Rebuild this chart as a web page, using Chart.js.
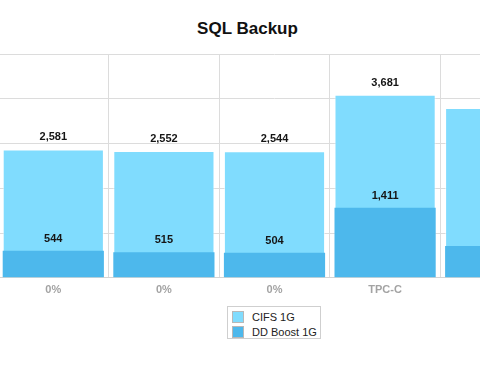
<!DOCTYPE html>
<html>
<head>
<meta charset="utf-8">
<script src="https://cdn.jsdelivr.net/npm/chart.js@4"></script>
<style>
  body { margin: 0; background: #fff; font-family: "Liberation Sans", Arial, sans-serif; }
  #frame { position: relative; width: 480px; height: 376px; overflow: hidden; }
  #title { position: absolute; left: 0; width: 495px; top: 19px; text-align: center;
           font-size: 17px; font-weight: bold; color: #111; }
  #plot { position: absolute; left: -2px; top: 0; width: 553px; height: 303px; }
  #legend { position: absolute; left: 227px; top: 306px; width: 92px; height: 31px;
            border: 1px solid #cfcfcf; font-size: 11px; color: #222; }
  .item { position: absolute; left: 4px; height: 12px; line-height: 12px; white-space: nowrap; }
  .sw { display: inline-block; width: 10px; height: 10px; border: 1px solid #b8b8b8;
        vertical-align: top; margin-right: 8px; }
</style>
</head>
<body>
<div id="frame">
  <div id="title">SQL Backup</div>
  <div id="plot"><canvas id="graficoBackup"></canvas></div>
  <div id="legend">
    <div class="item" style="top:4px"><span class="sw" style="background:#80dcfe"></span>CIFS 1G</div>
    <div class="item" style="top:19px"><span class="sw" style="background:#4db8ec"></span>DD Boost 1G</div>
  </div>
</div>
<script>
const categorias = ['0%', '0%', '0%', 'TPC-C', '0%'];
const cifs1G = [2581, 2552, 2544, 3681, 3413];
const ddBoost1G = [544, 515, 504, 1411, 639];

const graficoBackup = document.getElementById('graficoBackup');

// escreve o valor em cima de cada barra
const rotulos = {
  id: 'rotulos',
  afterDatasetsDraw(chart) {
    const ctx = chart.ctx;
    ctx.save();
    ctx.font = 'bold 11px "Liberation Sans", Arial, sans-serif';
    ctx.fillStyle = '#151515';
    ctx.textAlign = 'center';
    ctx.textBaseline = 'middle';
    chart.data.datasets.forEach(function (ds, i) {
      chart.getDatasetMeta(i).data.forEach(function (barra, j) {
        ctx.fillText(ds.data[j].toLocaleString('en-US'), barra.x, barra.y - 12);
      });
    });
    ctx.restore();
  }
};

new Chart(graficoBackup, {
  type: 'bar',
  data: {
    labels: categorias,
    datasets: [
      {
        label: 'CIFS 1G',
        data: cifs1G,
        backgroundColor: '#80dcfe',
        borderColor: 'rgba(255,255,255,0.6)',
        borderWidth: 1,
        grouped: false,
        order: 2
      },
      {
        label: 'DD Boost 1G',
        data: ddBoost1G,
        backgroundColor: '#4db8ec',
        borderWidth: 0,
        grouped: false,
        order: 1
      }
    ]
  },
  options: {
    responsive: true,
    maintainAspectRatio: false,
    animation: false,
    barPercentage: 0.915,
    categoryPercentage: 1,
    layout: { padding: { top: 54, left: 0, right: 0, bottom: 0 } },
    plugins: {
      legend: { display: false },
      title: { display: false },
      tooltip: { enabled: false }
    },
    scales: {
      x: {
        grid: { color: '#dcdcdc', drawTicks: false, offset: true },
        border: { color: '#d4d4d4' },
        ticks: {
          padding: 6,
          color: '#a3a3a3',
          font: { family: '"Liberation Sans", Arial, sans-serif', size: 11, weight: 'bold' }
        }
      },
      y: {
        min: 0,
        max: 4500,
        ticks: { display: false, stepSize: 900 },
        grid: { color: '#dcdcdc', drawTicks: false },
        border: { display: false }
      }
    }
  },
  plugins: [rotulos]
});
</script>
</body>
</html>
